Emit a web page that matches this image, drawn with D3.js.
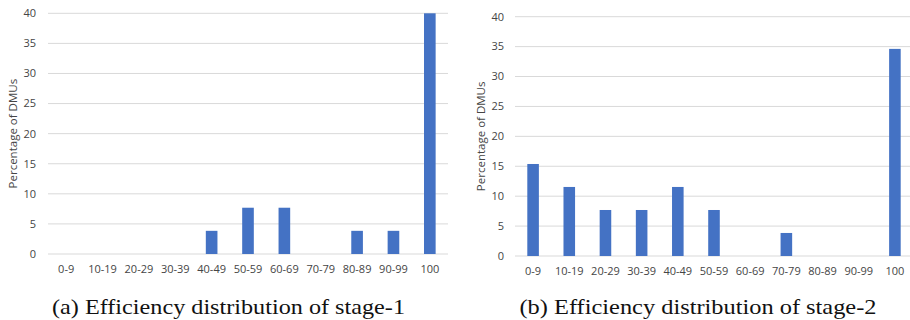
<!DOCTYPE html>
<html><head><meta charset="utf-8">
<script src="https://cdn.jsdelivr.net/npm/d3@7"></script>
<style>
html,body{margin:0;padding:0;background:#fff;}
svg{display:block;}
</style></head>
<body>
<svg id="chart" width="910" height="320"></svg>
<script>
const categories = ["0-9","10-19","20-29","30-39","40-49","50-59","60-69","70-79","80-89","90-99","100"];
const stage1Values = [0,0,0,0,3.85,7.69,7.69,0,3.85,3.85,40];
const stage2Values = [15.38,11.54,7.69,7.69,11.54,7.69,0,3.85,0,0,34.62];
const yTicks = [0,5,10,15,20,25,30,35,40];
const yTitle = "Percentage of DMUs";
const captions = ["(a) Efficiency distribution of stage-1","(b) Efficiency distribution of stage-2"];

const panels = [
  {values: stage1Values, caption: captions[0], x0: 48, x1: 448, gridEnd: 448, yTop: 13.3, yBot: 254, tickRight: 36, titleX: 13, capX: 228.5, capW: 353, labelY: 269},
  {values: stage2Values, caption: captions[1], x0: 515, x1: 913, gridEnd: 910, yTop: 16.7, yBot: 256, tickRight: 504, titleX: 481, capX: 698, capW: 357, labelY: 271}
];

const svg = d3.select("#chart");
const tickFont = "'Open Sans', sans-serif";
const textColor = "#454545";

panels.forEach(p => {
  const g = svg.append("g");
  const x = d3.scaleBand().domain(categories).range([p.x0, p.x1]).paddingInner(0.68).paddingOuter(0.34);
  const y = d3.scaleLinear().domain([0, 40]).range([p.yBot, p.yTop]);

  g.selectAll("line.grid").data(yTicks).enter().append("line")
    .attr("x1", p.x0).attr("x2", p.gridEnd)
    .attr("y1", d => y(d)).attr("y2", d => y(d))
    .attr("stroke", "#d9d9d9").attr("stroke-width", 1);

  g.selectAll("text.yt").data(yTicks).enter().append("text")
    .attr("x", p.tickRight).attr("y", d => y(d)).attr("dy", "0.35em")
    .attr("text-anchor", "end")
    .attr("font-family", tickFont).attr("font-size", 11).attr("fill", textColor)
    .text(d => d);

  g.selectAll("rect").data(p.values.map((v,i)=>({c:categories[i], v}))).enter().append("rect")
    .attr("x", d => x(d.c)).attr("width", x.bandwidth())
    .attr("y", d => y(d.v)).attr("height", d => y(0) - y(d.v))
    .attr("fill", "#4472C4");

  g.selectAll("text.xt").data(categories).enter().append("text")
    .attr("x", d => x(d) + x.bandwidth()/2).attr("y", p.labelY).attr("dy", "0.35em")
    .attr("text-anchor", "middle")
    .attr("font-family", tickFont).attr("font-size", 11).attr("fill", textColor)
    .text(d => d);

  const cy = (p.yTop + p.yBot) / 2;
  g.append("text")
    .attr("transform", `translate(${p.titleX},${cy}) rotate(-90)`)
    .attr("dy", "0.35em").attr("text-anchor", "middle")
    .attr("font-family", tickFont).attr("font-size", 11.5).attr("fill", textColor)
    .text(yTitle);

  g.append("text")
    .attr("x", p.capX).attr("y", 314).attr("text-anchor", "middle")
    .attr("font-family", "'Liberation Serif', serif").attr("font-size", 22).attr("fill", "#111")
    .attr("textLength", p.capW).attr("lengthAdjust", "spacingAndGlyphs")
    .text(p.caption);
});
</script>
</body></html>
